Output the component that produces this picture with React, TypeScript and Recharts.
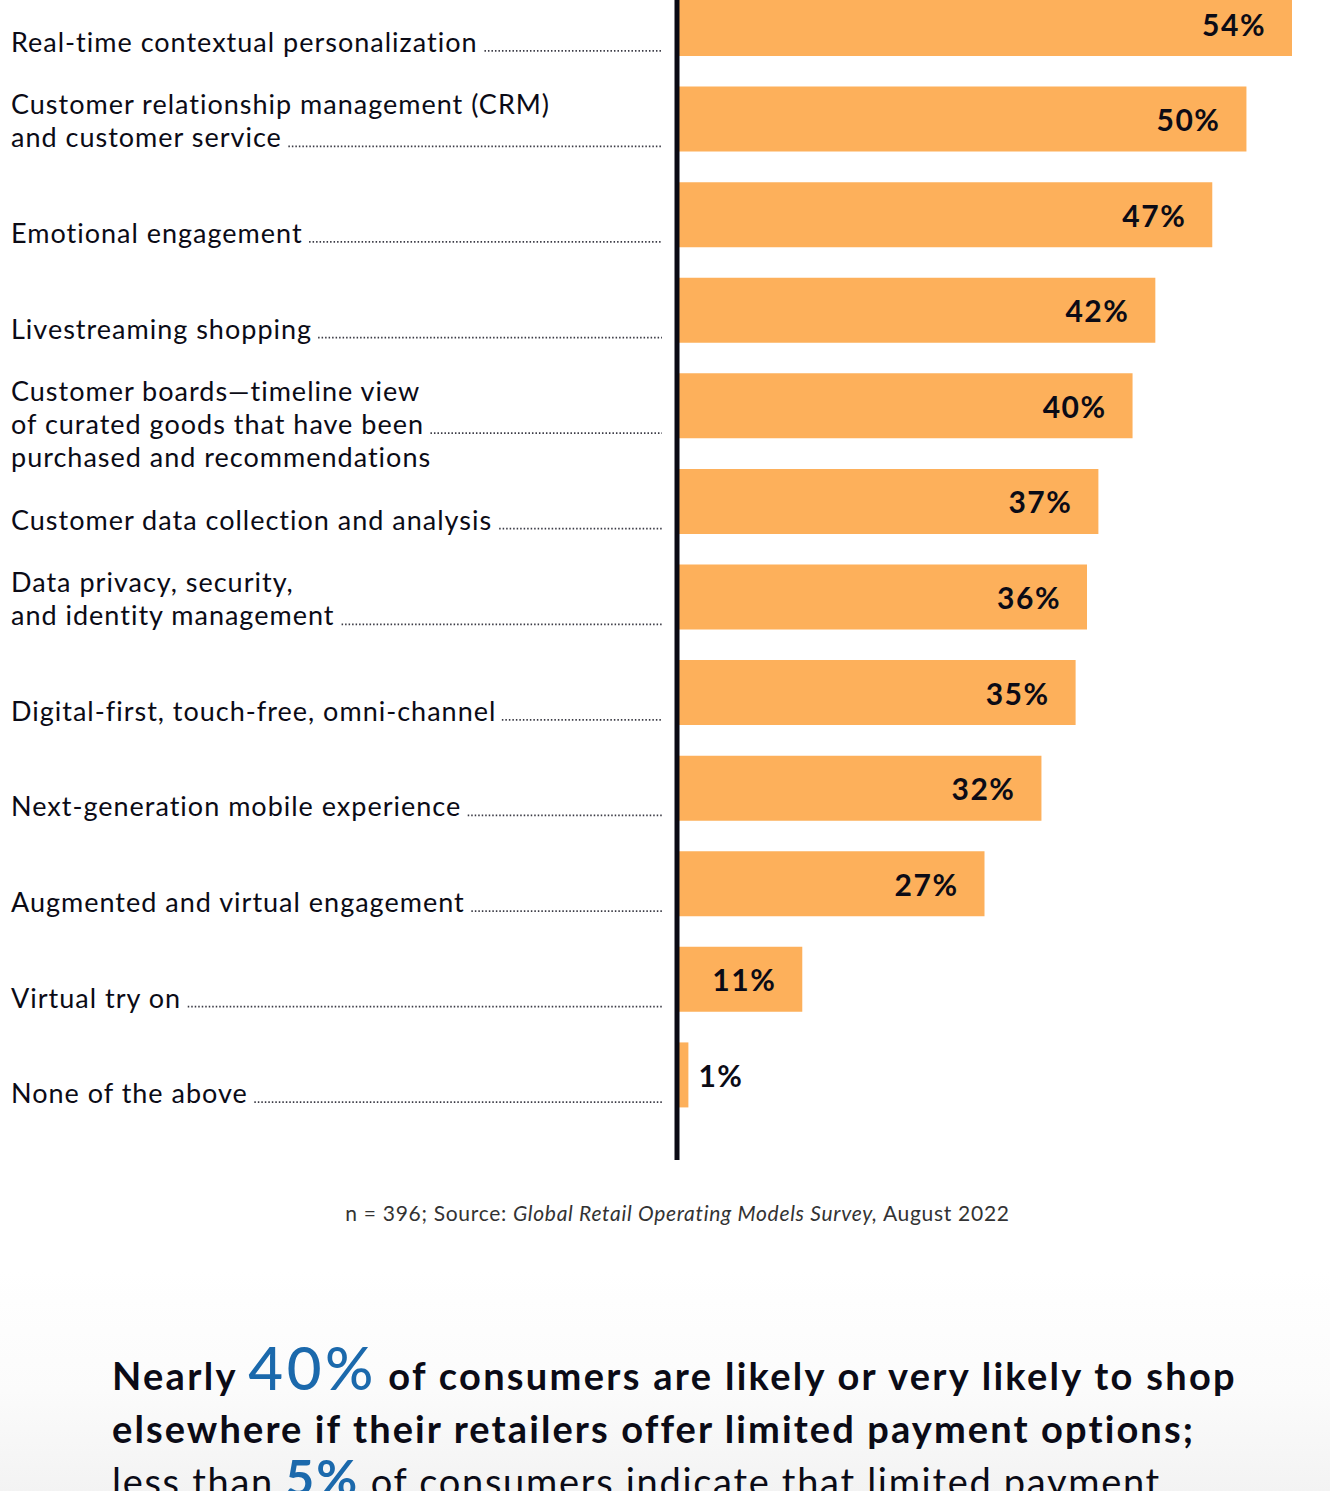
import { Bar, BarChart, LabelList, XAxis, YAxis } from 'recharts';

const categories = [
  'Real-time contextual personalization',
  'Customer relationship management (CRM)\nand customer service',
  'Emotional engagement',
  'Livestreaming shopping',
  'Customer boards—timeline view\nof curated goods that have been\npurchased and recommendations',
  'Customer data collection and analysis',
  'Data privacy, security,\nand identity management',
  'Digital-first, touch-free, omni-channel',
  'Next-generation mobile experience',
  'Augmented and virtual engagement',
  'Virtual try on',
  'None of the above',
];
const shares = [54, 50, 47, 42, 40, 37, 36, 35, 32, 27, 11, 1];

const data = categories.map((name, i) => ({ name, share: shares[i] }));

const FONT = 'Lato, "Open Sans", sans-serif';
const INK = '#0b0b16';
const LABEL_SIZE = 27;
const LABEL_LS = 1;

let measureCtx: CanvasRenderingContext2D | null = null;
function textWidth(s: string, font: string, ls: number) {
  if (!measureCtx) measureCtx = document.createElement('canvas').getContext('2d');
  if (!measureCtx) return s.length * (13 + ls);
  measureCtx.font = font;
  return measureCtx.measureText(s).width + s.length * ls;
}

// label on the left, with a dotted leader running up to the axis
function CategoryTick({ y, payload }: any) {
  const lines = String(payload.value).split('\n');
  const lead = Math.min(lines.length - 1, 1);
  const base = y + 28;
  const w = textWidth(lines[lead], `${LABEL_SIZE}px ${FONT}`, LABEL_LS);
  return (
    <g>
      {lines.map((l, i) => (
        <text
          key={i}
          x={11}
          y={base + (i - lead) * 33}
          fontSize={LABEL_SIZE}
          letterSpacing={LABEL_LS}
          fontFamily={FONT}
          fill={INK}
        >
          {l}
        </text>
      ))}
      <line
        x1={11 + w + 6}
        x2={662}
        y1={base - 1}
        y2={base - 1}
        stroke="#3a3a44"
        strokeWidth={1.8}
        strokeDasharray="1.5 2"
      />
    </g>
  );
}

function ValueLabel({ x, y, width, height, value }: any) {
  const inside = width > 70;
  return (
    <text
      x={inside ? x + width - 26 : x + width + 10}
      y={y + height / 2}
      textAnchor={inside ? 'end' : 'start'}
      dominantBaseline="central"
      fontSize={30}
      letterSpacing={1.5}
      fontWeight={700}
      fontFamily={FONT}
      fill={INK}
    >
      {value}%
    </text>
  );
}

export default function App() {
  return (
    <div style={{ position: 'absolute', top: 0, left: 0, width: 1330, height: 1491, overflow: 'hidden', background: '#fff', fontFamily: FONT }}>
      <div
        style={{
          position: 'absolute',
          top: 1270,
          left: 0,
          width: 1330,
          height: 221,
          background: 'linear-gradient(to bottom, #ffffff 0%, #fbfbfb 55%, #f3f3f3 100%)',
        }}
      />
      <div style={{ position: 'absolute', top: -24, left: 0 }}>
        <BarChart
          width={1330}
          height={1184}
          data={data}
          layout="vertical"
          margin={{ top: 0, right: 38, bottom: 0, left: 0 }}
        >
          <XAxis type="number" domain={[0, 54]} hide />
          <YAxis
            type="category"
            dataKey="name"
            width={677}
            interval={0}
            tickLine={false}
            axisLine={{ stroke: '#0a0a14', strokeWidth: 5 }}
            padding={{ top: 0, bottom: 37 }}
            tick={<CategoryTick />}
          />
          <Bar dataKey="share" fill="#FDB05B" barSize={65} isAnimationActive={false}>
            <LabelList dataKey="share" content={<ValueLabel />} />
          </Bar>
        </BarChart>
      </div>
      <div
        style={{
          position: 'absolute',
          top: 1199,
          left: 0,
          width: 1355,
          textAlign: 'center',
          fontSize: 21,
          letterSpacing: 0.7,
          color: '#333',
          lineHeight: '28px',
        }}
      >
        n = 396; Source: <i>Global Retail Operating Models Survey,</i> August 2022
      </div>
      <div style={{ position: 'absolute', top: 1349, left: 112, color: INK, fontSize: 38, lineHeight: '53px', whiteSpace: 'nowrap' }}>
        <div style={{ fontWeight: 700, letterSpacing: 2.3 }}>
          Nearly{' '}
          <span style={{ color: '#1b69ac', fontSize: 60, fontWeight: 500, letterSpacing: 3.5, lineHeight: 0 }}>40%</span> of consumers are likely or very likely to shop
        </div>
        <div style={{ fontWeight: 700, letterSpacing: 2.1 }}>elsewhere if their retailers offer limited payment options;</div>
        <div style={{ fontWeight: 400, letterSpacing: 1.7 }}>
          less than <span style={{ color: '#1b69ac', fontSize: 50, fontWeight: 700, letterSpacing: 2, lineHeight: 0 }}>5%</span> of consumers indicate that limited payment
        </div>
      </div>
    </div>
  );
}
